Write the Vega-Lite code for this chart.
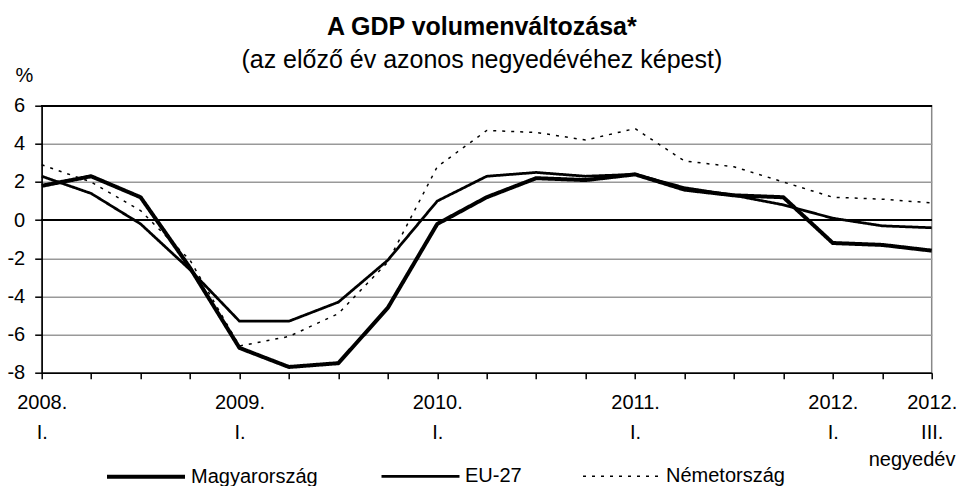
{
  "$schema": "https://vega.github.io/schema/vega-lite/v6.json",
  "width": 890,
  "height": 267,
  "autosize": {"type": "none"},
  "padding": {"left": 41.7, "top": 105.7, "right": 26.3, "bottom": 113.3},
  "background": "white",
  "config": {
    "font": "Liberation Sans",
    "view": {"stroke": "#888888", "strokeWidth": 1.5},
    "axisY": {
      "labelOverlap": false,
      "labelFlush": false,
      "labelBound": false,
      "grid": true,
      "gridColor": "#999999",
      "gridWidth": 1.5,
      "domainColor": "black",
      "domainWidth": 1.5,
      "tickColor": "black",
      "tickWidth": 1.5,
      "tickSize": 7,
      "labelFont": "Liberation Sans",
      "labelFontSize": 20,
      "labelColor": "black",
      "labelPadding": 10,
      "titleFont": "Liberation Sans",
      "titleFontSize": 20,
      "titleFontWeight": "normal",
      "titleColor": "black",
      "titleAngle": 0,
      "titleAlign": "left",
      "titleBaseline": "alphabetic",
      "titleX": -26.7,
      "titleY": -24.7
    }
  },
  "title": {
    "text": "A GDP volumenváltozása*",
    "subtitle": "(az előző év azonos negyedévéhez képest)",
    "font": "Liberation Sans",
    "subtitleFont": "Liberation Sans",
    "fontSize": 25,
    "fontWeight": "bold",
    "subtitleFontSize": 25,
    "color": "black",
    "subtitleColor": "black",
    "anchor": "middle",
    "frame": "bounds",
    "offset": -8,
    "subtitlePadding": 8
  },
  "data": {
    "values": [
      {"q": 0, "series": "Magyarország", "value": 1.8},
      {"q": 1, "series": "Magyarország", "value": 2.3},
      {"q": 2, "series": "Magyarország", "value": 1.2},
      {"q": 3, "series": "Magyarország", "value": -2.5},
      {"q": 4, "series": "Magyarország", "value": -6.7},
      {"q": 5, "series": "Magyarország", "value": -7.7},
      {"q": 6, "series": "Magyarország", "value": -7.5},
      {"q": 7, "series": "Magyarország", "value": -4.6},
      {"q": 8, "series": "Magyarország", "value": -0.2},
      {"q": 9, "series": "Magyarország", "value": 1.2},
      {"q": 10, "series": "Magyarország", "value": 2.2},
      {"q": 11, "series": "Magyarország", "value": 2.1},
      {"q": 12, "series": "Magyarország", "value": 2.4},
      {"q": 13, "series": "Magyarország", "value": 1.6},
      {"q": 14, "series": "Magyarország", "value": 1.3},
      {"q": 15, "series": "Magyarország", "value": 1.2},
      {"q": 16, "series": "Magyarország", "value": -1.2},
      {"q": 17, "series": "Magyarország", "value": -1.3},
      {"q": 18, "series": "Magyarország", "value": -1.6},
      {"q": 0, "series": "EU-27", "value": 2.3},
      {"q": 1, "series": "EU-27", "value": 1.4},
      {"q": 2, "series": "EU-27", "value": -0.2},
      {"q": 3, "series": "EU-27", "value": -2.6},
      {"q": 4, "series": "EU-27", "value": -5.3},
      {"q": 5, "series": "EU-27", "value": -5.3},
      {"q": 6, "series": "EU-27", "value": -4.3},
      {"q": 7, "series": "EU-27", "value": -2.1},
      {"q": 8, "series": "EU-27", "value": 1.0},
      {"q": 9, "series": "EU-27", "value": 2.3},
      {"q": 10, "series": "EU-27", "value": 2.5},
      {"q": 11, "series": "EU-27", "value": 2.3},
      {"q": 12, "series": "EU-27", "value": 2.4},
      {"q": 13, "series": "EU-27", "value": 1.7},
      {"q": 14, "series": "EU-27", "value": 1.3},
      {"q": 15, "series": "EU-27", "value": 0.8},
      {"q": 16, "series": "EU-27", "value": 0.1},
      {"q": 17, "series": "EU-27", "value": -0.3},
      {"q": 18, "series": "EU-27", "value": -0.4},
      {"q": 0, "series": "Németország", "value": 2.9},
      {"q": 1, "series": "Németország", "value": 2.0},
      {"q": 2, "series": "Németország", "value": 0.5},
      {"q": 3, "series": "Németország", "value": -2.1},
      {"q": 4, "series": "Németország", "value": -6.6},
      {"q": 5, "series": "Németország", "value": -6.1},
      {"q": 6, "series": "Németország", "value": -4.9},
      {"q": 7, "series": "Németország", "value": -2.2},
      {"q": 8, "series": "Németország", "value": 2.8},
      {"q": 9, "series": "Németország", "value": 4.7},
      {"q": 10, "series": "Németország", "value": 4.6},
      {"q": 11, "series": "Németország", "value": 4.2},
      {"q": 12, "series": "Németország", "value": 4.8},
      {"q": 13, "series": "Németország", "value": 3.1},
      {"q": 14, "series": "Németország", "value": 2.8},
      {"q": 15, "series": "Németország", "value": 2.0},
      {"q": 16, "series": "Németország", "value": 1.2},
      {"q": 17, "series": "Németország", "value": 1.1},
      {"q": 18, "series": "Németország", "value": 0.9}
    ]
  },
  "layer": [
    {
      "mark": {"type": "rule", "color": "black", "strokeWidth": 1.5},
      "encoding": {
        "y": {
          "datum": 0,
          "type": "quantitative",
          "scale": {"domain": [-8, 6], "nice": false, "zero": false},
          "axis": {"values": [-8, -6, -4, -2, 0, 2, 4, 6], "labelExpr": "'' + datum.value", "title": "%"}
        }
      }
    },
    {
      "mark": {"type": "rule", "color": "black", "strokeWidth": 1.5},
      "encoding": {
        "y": {
          "datum": 6,
          "type": "quantitative",
          "scale": {"domain": [-8, 6], "nice": false, "zero": false},
          "axis": {"values": [-8, -6, -4, -2, 0, 2, 4, 6], "labelExpr": "'' + datum.value", "title": "%"}
        }
      }
    },
    {
      "mark": {"type": "line", "color": "black", "strokeJoin": "round"},
      "encoding": {
        "x": {
          "field": "q",
          "type": "quantitative",
          "scale": {"domain": [0, 18], "nice": false, "zero": false},
          "axis": {
            "values": [0, 1, 2, 3, 4, 5, 6, 7, 8, 9, 10, 11, 12, 13, 14, 15, 16, 17, 18],
            "labelExpr": "datum.value == 18 ? ['2012.', 'III.'] : (datum.value % 4 == 0 ? [toString(2008 + datum.value / 4) + '.', 'I.'] : '')",
            "grid": false,
            "domainColor": "black",
            "domainWidth": 1.5,
            "tickColor": "black",
            "tickWidth": 1.5,
            "tickSize": 6,
            "labelFont": "Liberation Sans",
            "labelFontSize": 20,
            "labelColor": "black",
            "labelPadding": 14,
            "labelLineHeight": 30,
            "labelOverlap": false,
            "labelFlush": false,
            "labelBound": false,
            "title": "negyedév",
            "titleFont": "Liberation Sans",
            "titleFontSize": 20,
            "titleFontWeight": "normal",
            "titleColor": "black",
            "titleAlign": "right",
            "titleBaseline": "alphabetic",
            "titleX": 913.3,
            "titleY": 92.3
          }
        },
        "y": {
          "field": "value",
          "type": "quantitative",
          "scale": {"domain": [-8, 6], "nice": false, "zero": false},
          "axis": {"values": [-8, -6, -4, -2, 0, 2, 4, 6], "labelExpr": "'' + datum.value", "title": "%"}
        },
        "strokeWidth": {
          "field": "series",
          "type": "nominal",
          "scale": {"domain": ["Magyarország", "EU-27", "Németország"], "range": [4, 1.5, 2]},
          "legend": {
            "orient": "none",
            "legendX": 63.3,
            "legendY": 330,
            "direction": "horizontal",
            "title": null,
            "symbolType": "stroke",
            "symbolSize": 6084,
            "symbolStrokeColor": "black",
            "labelFont": "Liberation Sans",
            "labelFontSize": 20,
            "labelColor": "black",
            "labelOffset": 4,
            "columnPadding": 58,
            "padding": 0
          }
        },
        "strokeDash": {
          "field": "series",
          "type": "nominal",
          "scale": {"domain": ["Magyarország", "EU-27", "Németország"], "range": [[1, 0], [1, 0], [3, 6]]},
          "legend": {
            "orient": "none",
            "legendX": 63.3,
            "legendY": 330,
            "direction": "horizontal",
            "title": null,
            "symbolType": "stroke",
            "symbolSize": 6084,
            "symbolStrokeColor": "black",
            "labelFont": "Liberation Sans",
            "labelFontSize": 20,
            "labelColor": "black",
            "labelOffset": 4,
            "columnPadding": 58,
            "padding": 0
          }
        }
      }
    }
  ]
}
